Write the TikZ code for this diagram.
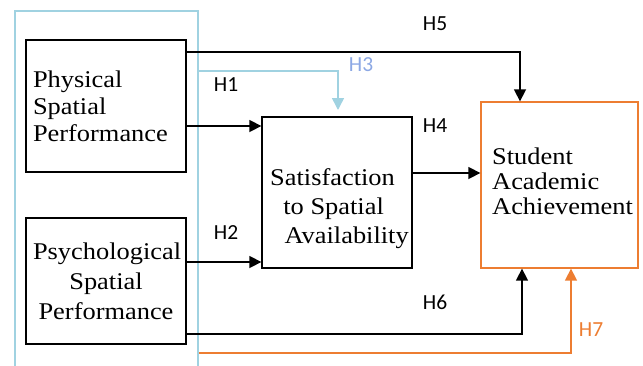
\documentclass[tikz,border=0pt]{standalone}
\usepackage{fontspec}
\setmainfont{Liberation Serif}[FakeStretch=1.1]
\newfontfamily\lbl{Carlito}
\usetikzlibrary{arrows.meta}
\definecolor{lblue}{RGB}{160,210,225}
\definecolor{hblue}{RGB}{140,168,228}
\definecolor{orng}{RGB}{237,125,49}
\begin{document}
\begin{tikzpicture}[x=1pt,y=-1pt,
  box/.style={draw, line width=1.3pt, inner sep=0pt},
  conn/.style={line width=1.5pt, -{Triangle[length=12pt,width=12pt]}},
  hl/.style={font=\lbl\fontsize{21.5}{23}\selectfont, inner sep=0pt},
  txt/.style={font=\fontsize{24}{27}\selectfont}]
\useasboundingbox (0,0) rectangle (643,365);
% group box
\node[draw=lblue, line width=2.8pt, minimum width=183pt, minimum height=364pt, inner sep=0pt] (grp) at (106.5,193) {};
% boxes
\node[box, minimum width=160pt, minimum height=132pt, text width=146pt, align=left, txt] (phys) at (106,106) {Physical\\Spatial\\Performance};
\node[box, minimum width=160pt, minimum height=126pt, text width=146pt, align=center,
  font=\fontsize{24}{30}\selectfont] (psych) at (106,281) {Psychological\\Spatial\\Performance};
\node[box, minimum width=150pt, minimum height=151pt] (sat) at (337,192.5) {};
\node[anchor=west, inner sep=0pt, align=left, font=\fontsize{24}{29}\selectfont] (satt) at (270,209) {Satisfaction\\\hspace{0.55em}to Spatial\\\hspace{0.6em}Availability};
\node[box, draw=orng, minimum width=157pt, minimum height=166pt] (stud) at (559.5,185) {};
\node[anchor=west, inner sep=0pt, align=left, font=\fontsize{24}{25}\selectfont] (studt) at (492,181) {Student\\Academic\\Achievement};
% connectors
\coordinate (h3end) at (338,110);
\draw[conn] (phys.east |- 0,52) -| (stud.north -| 520,0);
\draw[conn] (phys.east |- 0,126) -- (sat.west |- 0,126);
\draw[conn, draw=lblue] (grp.east |- 0,71) -| (h3end);
\draw[conn] (psych.east |- 0,262) -- (sat.west |- 0,262);
\draw[conn] (sat.east |- 0,173) -- (stud.west |- 0,173);
\draw[conn] (psych.east |- 0,334) -| (stud.south -| 522,0);
\draw[conn, draw=orng] (grp.east |- 0,353) -| (stud.south -| 571,0);
% labels
\node[hl] (l5) at (435,24) {H5};
\node[hl, text=hblue] (l3) at (361,65) {H3};
\node[hl] (l1) at (226,85) {H1};
\node[hl] (l4) at (435,126) {H4};
\node[hl] (l2) at (226,233) {H2};
\node[hl] (l6) at (435,302) {H6};
\node[hl, text=orng] (l7) at (591,330) {H7};
\end{tikzpicture}
\end{document}
